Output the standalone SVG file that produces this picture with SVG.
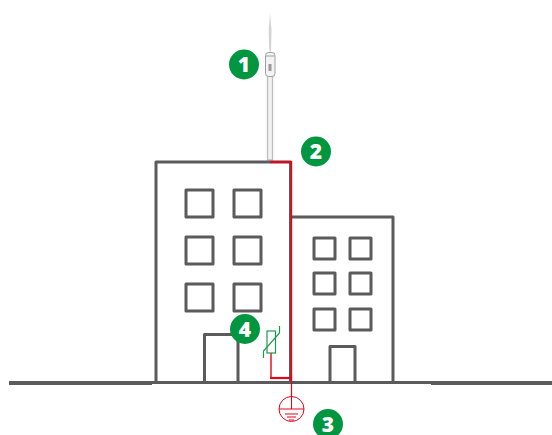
<svg xmlns="http://www.w3.org/2000/svg" width="552" height="435" viewBox="0 0 552 435">
<style>
.b{fill:none;stroke:#5b5b5b;stroke-width:3;stroke-linejoin:round}
.r{fill:none;stroke:#e3051b}
.g{fill:none;stroke:#1f9a4d;stroke-width:1.2}
.n{fill:#009640}
.t{fill:#fff;font-family:"Open Sans","Liberation Sans",sans-serif;font-weight:800;font-size:21px;text-anchor:middle}
</style>
<rect width="552" height="435" fill="#fff"/>
<g id="lightning-rod">
<path d="M267.500 160V75H272.500V160Z" fill="#f2f2f2" stroke="#bdbdbd" stroke-width="1.300"/>
<path d="M270 13L268.700 30L269 46L269.600 52H270.600L271.200 46L271.500 30Z" fill="#d4d4d4"/>
<rect x="265.500" y="52.500" width="9.500" height="24" rx="3" fill="#f3f3f3" stroke="#a0a0a0" stroke-width="1"/>
<path d="M266 56H274.500" stroke="#a0a0a0" stroke-width="1"/>
<rect x="268.500" y="64" width="3" height="7" fill="#9a9a9a"/>
</g>
<g id="building-main">
<path class="b" d="M156 382V162H290.500V382"/>
<rect class="b" x="186" y="190" width="27" height="27"/>
<rect class="b" x="234" y="190" width="27" height="27"/>
<rect class="b" x="186" y="237" width="27" height="27"/>
<rect class="b" x="234" y="237" width="27" height="27"/>
<rect class="b" x="186" y="284" width="27" height="27"/>
<rect class="b" x="234" y="284" width="27" height="27"/>
<path class="b" d="M204.500 382V334.500H238V382"/>
</g>
<g id="building-small">
<path class="b" d="M292 217H393V382"/>
<rect class="b" x="314" y="238" width="21" height="21"/>
<rect class="b" x="350" y="238" width="21" height="21"/>
<rect class="b" x="314" y="273" width="21" height="21"/>
<rect class="b" x="350" y="273" width="21" height="21"/>
<rect class="b" x="314" y="309" width="21" height="21"/>
<rect class="b" x="350" y="309" width="21" height="21"/>
<path class="b" d="M330 382V346.500H355V382"/>
</g>
<g id="ground">
<rect x="9" y="381" width="143" height="4" fill="#5b5b5b"/>
<rect x="152" y="381" width="279" height="3" fill="#5b5b5b"/>
<rect x="431" y="381" width="121" height="4" fill="#5b5b5b"/>
</g>
<g id="connectors">
<path class="r" stroke-width="2.200" d="M270 162H291.500"/>
<path class="r" stroke-width="1.800" d="M291.300 161V381"/>
<path class="r" stroke-width="1.200" d="M291.500 381V397"/>
<path class="r" stroke-width="1.400" d="M271 353V378"/>
<path class="r" stroke-width="2.200" d="M270 378H291"/>
</g>
<g id="earth">
<circle class="r" cx="291.500" cy="409" r="12.500" stroke-width="1"/>
<path class="r" stroke-width="1" d="M291.500 397V409M279 409H304"/>
<path class="r" stroke-width="1.100" d="M285 414H298M287 417H296M289 420H294"/>
</g>
<g id="varistor">
<rect class="g" x="267" y="331" width="8.500" height="22"/>
<path class="g" d="M263.500 358V351L279.500 333V326"/>
</g>
<g id="badge-1"><circle class="n" cx="244" cy="64.500" r="15"/><text class="t" x="244" y="72">1</text></g>
<g id="badge-2"><circle class="n" cx="316" cy="151.500" r="15"/><text class="t" x="316" y="158.500">2</text></g>
<g id="badge-3"><circle class="n" cx="328" cy="424" r="15"/><text class="t" x="328" y="432">3</text></g>
<g id="badge-4"><circle class="n" cx="245" cy="329" r="15"/><text class="t" x="245" y="337">4</text></g>
</svg>
